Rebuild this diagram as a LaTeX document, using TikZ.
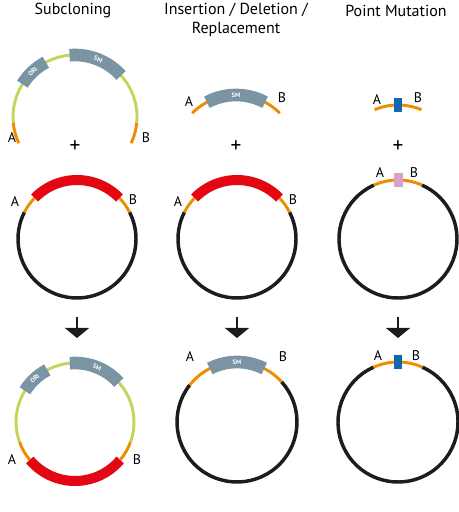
\documentclass[tikz,border=0pt]{standalone}
\usepackage{fontspec}
\setmainfont{PT Sans}
\usetikzlibrary{arrows.meta}
\definecolor{vecgreen}{RGB}{192,214,92}
\definecolor{armorange}{RGB}{240,140,0}
\definecolor{insred}{RGB}{227,6,19}
\definecolor{smgray}{RGB}{122,148,164}
\definecolor{mutblue}{RGB}{21,102,176}
\definecolor{mutpink}{RGB}{217,160,204}
\definecolor{bbblack}{RGB}{28,28,30}
\tikzstyle{vector}=[draw=vecgreen,line width=2.2pt]
\tikzstyle{arm}=[draw=armorange,line width=2.2pt]
\tikzstyle{backbone}=[draw=bbblack,line width=2.6pt]
\tikzstyle{insert}=[draw=insred,line width=7.5pt]
\tikzstyle{marker}=[draw=smgray,line width=9.5pt]
\tikzstyle{tag}=[text=white,font=\fontsize{4.8}{5}\selectfont\bfseries,inner sep=0pt]
\tikzstyle{endlabel}=[font=\fontsize{10.5}{12}\selectfont,inner sep=0pt]
\tikzstyle{title}=[font=\fontsize{12}{14}\selectfont,align=center,inner sep=0pt]
\tikzstyle{plus}=[font=\fontsize{16}{18}\selectfont,inner sep=0pt]
\tikzstyle{mutation}=[rectangle,inner sep=0pt,minimum width=6pt,minimum height=10.5pt]
\tikzstyle{down}=[draw=bbblack,line width=1pt,-{Triangle[width=18pt,length=7.5pt]}]

\begin{document}
\begin{tikzpicture}[x=0.75pt,y=0.75pt]
    \useasboundingbox (0,0) rectangle (459,512);

    % column titles
    \node[title] (subtitle) at (73,501) {Subcloning};
    \node[title] (indtitle) at (236,492) {Insertion / Deletion /\\Replacement};
    \node[title] (pmtitle) at (396,501) {Point Mutation};

    % subcloning: vector with ORI and SM
    \coordinate (vec) at (75,395);
    \foreach \a/\b/\s in {-25/-5/arm, -5/185/vector, 185/205/arm, 148/118/marker, 95/42/marker}
        \draw[\s] ([shift={(\a:62)}]vec) arc[start angle=\a, end angle=\b, radius=62];
    \node[tag, rotate=43] (ori1) at ([shift={(133:62)}]vec) {ORI};
    \node[tag, rotate=-22] (sm1) at ([shift={(68:62)}]vec) {SM};

    % insertion: SM cassette with homology arms
    \coordinate (cas) at (236,355);
    \draw[arm] ([shift={(45:62)}]cas) arc[start angle=45, end angle=135, radius=62];
    \draw[marker] ([shift={(62:62)}]cas) arc[start angle=62, end angle=118, radius=62];
    \node[tag] (sm2) at ([shift={(90:62)}]cas) {SM};

    % point mutation: short oligo
    \coordinate (oli) at (398,347);
    \draw[arm] ([shift={(67:60)}]oli) arc[start angle=67, end angle=113, radius=60];
    \node[mutation, fill=mutblue] (mut1) at ([shift={(90:60)}]oli) {};

    % plus signs
    \foreach \x/\name in {75/p1, 236/p2, 398/p3}
        \node[plus] (\name) at (\x,365) {+};

    % target plasmids with red insert
    \foreach \x/\name in {77/tgt1, 237/tgt2}
    {
        \coordinate (\name) at (\x,273);
        \foreach \a/\b/\s in {153/387/backbone, 27/44/arm, 44/136/insert, 136/153/arm}
            \draw[\s] ([shift={(\a:59)}]\name) arc[start angle=\a, end angle=\b, radius=59];
    }

    % target plasmid for point mutation
    \coordinate (tgt3) at (398,273);
    \foreach \a/\b/\s in {114/426/backbone, 66/114/arm}
        \draw[\s] ([shift={(\a:59)}]tgt3) arc[start angle=\a, end angle=\b, radius=59];
    \node[mutation, fill=mutpink, minimum width=6.75pt] (mut2) at ([shift={(90:59)}]tgt3) {};

    % arrows
    \foreach \x/\n in {77/1, 237/2, 398/3}
    {
        \coordinate (from\n) at (\x,195);
        \coordinate (to\n) at (\x,174);
        \draw[down] (from\n) -- (to\n);
    }

    % results
    \coordinate (res1) at (75,90);
    \foreach \a/\b/\s in {-20/200/vector, 200/220/arm, 220/320/insert, 320/340/arm, 148/118/marker, 95/42/marker}
        \draw[\s] ([shift={(\a:59)}]res1) arc[start angle=\a, end angle=\b, radius=59];
    \node[tag, rotate=43] (ori3) at ([shift={(133:59)}]res1) {ORI};
    \node[tag, rotate=-22] (sm3) at ([shift={(68:59)}]res1) {SM};

    \coordinate (res2) at (237,90);
    \foreach \a/\b/\s in {142/402/backbone, 42/142/arm, 63/117/marker}
        \draw[\s] ([shift={(\a:60)}]res2) arc[start angle=\a, end angle=\b, radius=60];
    \node[tag] (sm4) at ([shift={(90:60)}]res2) {SM};

    \coordinate (res3) at (398,90);
    \foreach \a/\b/\s in {114/426/backbone, 66/114/arm}
        \draw[\s] ([shift={(\a:60)}]res3) arc[start angle=\a, end angle=\b, radius=60];
    \node[mutation, fill=mutblue] (mut3) at ([shift={(90:60)}]res3) {};

    % homology arm labels
    \foreach \x/\y/\name/\txt in {12/374/a1/A, 146/374/b1/B, 189/410/a2/A, 282/414/b2/B,
            377/412/a3/A, 418/414/b3/B, 15/310/a4/A, 133/312/b4/B, 178/310/a5/A, 293/312/b5/B,
            380/339/a6/A, 414/339/b6/B, 12/52/a7/A, 137/52/b7/B, 190/155/a8/A, 283/155/b8/B,
            378/156/a9/A, 416/156/b9/B}
        \node[endlabel] (\name) at (\x,\y) {\txt};

\end{tikzpicture}
\end{document}
